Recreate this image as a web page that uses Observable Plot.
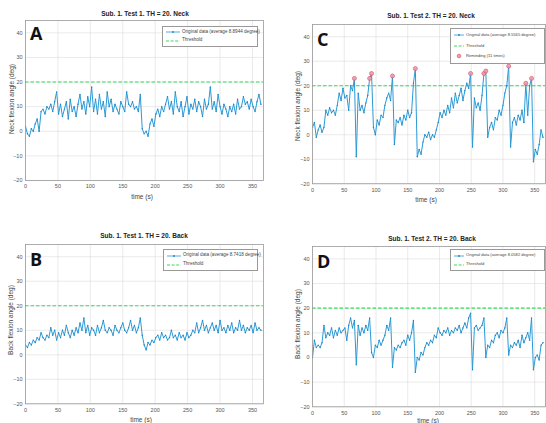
<!DOCTYPE html>
<html><head><meta charset="utf-8">
<script src="https://cdn.jsdelivr.net/npm/d3@7"></script>
<script src="https://cdn.jsdelivr.net/npm/@observablehq/plot@0.6"></script>
<style>
body{margin:0;background:#fff;}
#root{position:relative;width:546px;height:423px;overflow:hidden;font-family:"Liberation Sans",Arial,sans-serif;background:#fff;}
.abs{position:absolute;line-height:1;white-space:nowrap;}
.title{font-weight:bold;font-size:6.5px;color:#222;transform:translate(-50%,-50%);}
.xlab{font-size:6.5px;color:#444;transform:translate(-50%,-50%);}
.ylab{font-size:6.5px;color:#444;transform:translate(-50%,-50%) rotate(-90deg);}
.letter{font-family:"Open Sans","Liberation Sans",sans-serif;font-weight:bold;font-size:18px;color:#111;}
.legend{border:0.8px solid #999;background:#fff;color:#444;box-sizing:border-box;padding:1px 1.5px;}
.row{display:flex;align-items:center;height:8px;}
.row svg{margin-right:1.5px;flex:none;}
</style>
</head><body><div id="root"></div>
<script>
const sampleStep = 3;
const threshold = 20;
const xTicks = [0, 50, 100, 150, 200, 250, 300, 350];
const yTicks = [-20, -10, 0, 10, 20, 30, 40];
const xDomain = [0, 367];
const yDomain = [-20, 45];

const neckTest1 = [2,-1,-2,1,0,3,5,0,8,9, 7,10,9,11,8,12,16,7,11,6, 9,12,5,13,8,10,6,11,15,9,
  12,7,14,10,18,8,13,7,15,9, 12,6,16,10,13,8,11,9,7,12, 10,8,16,11,10,12,9,10,8,15,
  1,-1,0,-2,3,5,2,7,9,6, 10,8,11,14,9,12,7,16,10,8, 12,6,10,14,7,11,9,13,8,12,
  10,6,13,9,11,18,9,12,8,15, 10,7,11,9,6,10,8,11,7,13, 9,10,14,11,12,9,13,10,8,12, 15,11];
const backTest1 = [4,3,5,4,6,5,7,6,9,7, 6,8,7,11,8,10,6,9,7,10, 8,12,9,7,10,8,11,9,13,10,
  15,9,12,8,11,10,8,12,9,11, 14,10,9,11,10,8,12,10,9,11, 13,10,9,11,14,10,12,9,11,15,
  8,4,2,5,4,6,5,7,8,6, 9,7,8,6,7,10,7,8,6,9, 7,8,6,9,7,8,10,9,13,9,
  11,14,10,12,9,11,13,10,12,9, 14,10,11,9,12,10,13,9,11,10, 14,10,12,9,11,10,12,9,13,10, 11,10];
const neckTest2 = [3,5,-1,2,4,1,3,10,8,11, 9,10,8,12,17,14,19,15,16,10, 20,18,23,-9,17,10,12,9,13,16,
  23,25,3,0,6,4,8,7,12,15, 17,14,24,-4,6,5,7,4,8,6, 10,7,9,21,27,-9,-6,-8,-3,0,
  -1,1,-2,0,-1,2,5,9,7,10, 8,12,9,15,11,17,13,16,19,14, 18,21,19,25,-5,15,11,13,10,16,
  25,26,-1,3,5,2,7,6,10,8, 12,17,20,28,-5,5,7,4,8,6, 10,5,21,8,20,23,-11,-6,-8,-4, 2,-1];
const backTest2 = [0,7,4,5,4,6,13,8,10,9, 12,8,11,9,12,10,11,12,7,13, 16,12,15,-3,13,9,12,10,13,11,
  16,2,0,5,4,7,5,7,9,13, 11,16,-4,4,3,5,4,6,7,5, 9,7,10,15,-6,0,-1,2,1,4,
  6,5,7,6,9,8,12,10,9,11, 10,12,9,11,10,12,11,13,10,12, 14,12,16,18,-5,12,13,11,12,13,
  16,0,5,4,7,6,9,10,8,11, 10,12,16,1,5,4,6,5,7,4, 9,6,8,10,7,16,-5,0,1,-1, 5,6];
const remindTimes = [66, 90, 93, 126, 162, 249, 270, 273, 309, 336, 345];

const titles = ["Sub. 1. Test 1. TH = 20. Neck", "Sub. 1. Test 2. TH = 20. Neck",
                "Sub. 1. Test 1. TH = 20. Back", "Sub. 1. Test 2. TH = 20. Back"];
const yLabels = ["Neck flexion angle (deg)", "Back flexion angle (deg)"];
const xLabel = "time (s)";
const letters = ["A", "C", "B", "D"];
const averages = ["8.8944", "8.5565", "8.7418", "8.0582"];
const remindLabel = "Reminding (11 times)";
const thresholdLabel = "Threshold";

// ---- styling / layout ----
const blue = "#2a9ad6", dotBlue = "#1f7fc0", green = "#35dd5c", red = "#e0506a";
const root = document.getElementById("root");
const FONT = '"Liberation Sans", Arial, sans-serif';

function addDiv(cls, text, left, top, extra) {
  const d = document.createElement("div");
  d.className = "abs " + cls;
  d.textContent = text;
  d.style.left = left + "px"; d.style.top = top + "px";
  if (extra) Object.assign(d.style, extra);
  root.appendChild(d);
  return d;
}

function sample(kind, sw) {
  const ns = "http://www.w3.org/2000/svg";
  const s = document.createElementNS(ns, "svg");
  s.setAttribute("width", sw); s.setAttribute("height", 6);
  const m = sw / 2;
  if (kind === "data") {
    s.innerHTML = `<line x1="1" y1="3" x2="${sw - 1}" y2="3" stroke="${blue}" stroke-width="0.8"/><circle cx="${m}" cy="3" r="0.9" fill="${dotBlue}"/>`;
  } else if (kind === "th") {
    s.innerHTML = `<line x1="1" y1="3" x2="${sw - 1}" y2="3" stroke="${green}" stroke-width="1" stroke-dasharray="3,1.6"/>`;
  } else {
    s.innerHTML = `<circle cx="${m}" cy="3" r="1.8" fill="#f0a0ad" stroke="${red}" stroke-width="0.7"/>`;
  }
  return s;
}

function legend(left, top, width, avg, withRemind, rowH, fs, sw) {
  const box = document.createElement("div");
  box.className = "abs legend";
  Object.assign(box.style, {left: left + "px", top: top + "px", width: width + "px", fontSize: fs + "px"});
  const rows = [["data", `Original data (average ${avg} degree)`], ["th", thresholdLabel]];
  if (withRemind) rows.push(["rem", remindLabel]);
  for (const [k, t] of rows) {
    const r = document.createElement("div");
    r.className = "row"; r.style.height = rowH + "px";
    r.appendChild(sample(k, sw));
    const sp = document.createElement("span"); sp.textContent = t;
    r.appendChild(sp);
    box.appendChild(r);
  }
  root.appendChild(box);
}

function panel(cfg) {
  const data = cfg.values.map((v, i) => ({t: i * sampleStep, v}));
  const ml = 26, mr = 4, mt = 4, mb = 16;
  const w = cfg.box.r - cfg.box.l, h = cfg.box.b - cfg.box.t;
  const marks = [
    Plot.gridX(xTicks, {stroke: "#dcdcdc", strokeOpacity: 1, strokeWidth: 0.6}),
    Plot.gridY(yTicks, {stroke: "#dcdcdc", strokeOpacity: 1, strokeWidth: 0.6}),
    Plot.axisX(xTicks, {tickSize: 0, tickPadding: 4, fill: "#555", fontSize: 5.5}),
    Plot.axisY(yTicks, {tickSize: 0, tickPadding: 3, fill: "#555", fontSize: 5.5}),
    Plot.ruleY([threshold], {stroke: green, strokeWidth: 1.1, strokeDasharray: "3.5,2"}),
    Plot.line(data, {x: "t", y: "v", stroke: blue, strokeWidth: 1, clip: true}),
    Plot.dot(data, {x: "t", y: "v", r: 0.7, fill: dotBlue, clip: true}),
    Plot.frame({stroke: "#9a9a9a", strokeWidth: 0.8})
  ];
  if (cfg.remind) {
    const rd = cfg.remind.map(t => ({t, v: cfg.values[Math.round(t / sampleStep)]}));
    marks.push(Plot.dot(rd, {x: "t", y: "v", r: 2, fill: "#f0a0ad", fillOpacity: 0.85, stroke: red, strokeWidth: 0.7}));
  }
  const chart = Plot.plot({
    width: w + ml + mr, height: h + mt + mb,
    marginLeft: ml, marginRight: mr, marginTop: mt, marginBottom: mb,
    x: {domain: xDomain, label: null},
    y: {domain: yDomain, label: null},
    style: {fontFamily: FONT, background: "transparent", color: "#555", overflow: "visible"},
    marks
  });
  chart.style.position = "absolute";
  chart.style.left = (cfg.box.l - ml) + "px";
  chart.style.top = (cfg.box.t - mt) + "px";
  root.appendChild(chart);
}

const panels = [
  {values: neckTest1, box: {l: 25, r: 263, t: 20, b: 180}, title: titles[0], tpos: [145, 14],
   ylab: yLabels[0], ypos: [12, 99], xpos: [142, 197], letter: letters[0], lpos: [30, 24],
   leg: [162, 26, 96, averages[0], false, 8.5, 4.6, 16]},
  {values: neckTest2, box: {l: 312, r: 545, t: 23.75, b: 183}, title: titles[1], tpos: [431, 16],
   ylab: yLabels[0], ypos: [298, 106], xpos: [426, 200], letter: letters[1], lpos: [317, 30],
   leg: [450, 28, 95, averages[1], true, 10.5, 4.1, 12], remind: remindTimes},
  {values: backTest1, box: {l: 25, r: 263, t: 243.7, b: 403}, title: titles[2], tpos: [144, 236],
   ylab: yLabels[1], ypos: [11, 320], xpos: [141, 420], letter: letters[2], lpos: [30, 250],
   leg: [163, 249, 95, averages[2], false, 9, 4.6, 16]},
  {values: backTest2, box: {l: 312, r: 545, t: 245.7, b: 406}, title: titles[3], tpos: [432, 239],
   ylab: yLabels[1], ypos: [298, 324], xpos: [428, 421], letter: letters[3], lpos: [317, 252],
   leg: [450, 249, 95, averages[3], false, 9, 4.1, 12]}
];

for (const p of panels) {
  panel(p);
  addDiv("title", p.title, p.tpos[0], p.tpos[1]);
  addDiv("ylab", p.ylab, p.ypos[0], p.ypos[1]);
  addDiv("xlab", xLabel, p.xpos[0], p.xpos[1]);
  addDiv("letter", p.letter, p.lpos[0], p.lpos[1]);
  legend(...p.leg);
}
</script>
</body></html>
